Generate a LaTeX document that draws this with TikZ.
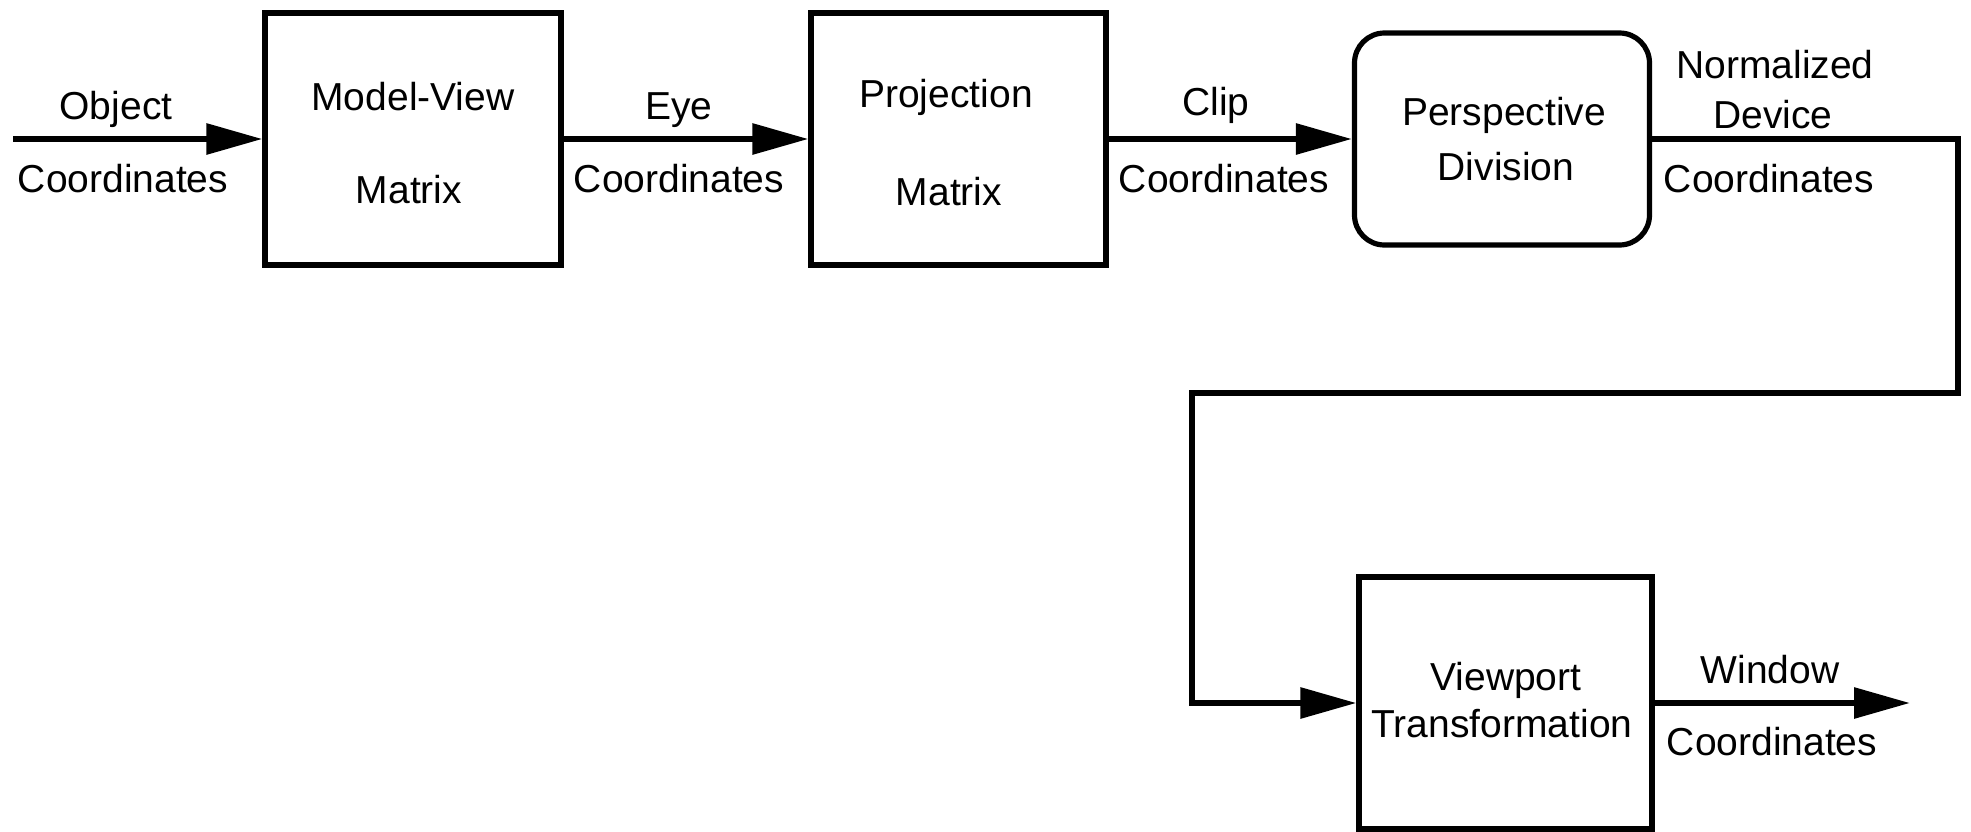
\documentclass[tikz,border=0pt]{standalone}
\usepackage{fontspec}
\setmainfont{Liberation Sans}
\usetikzlibrary{arrows.meta}
\tikzset{
  blk/.style={draw, line width=2.6pt, inner sep=0pt},
  conn/.style={line width=3pt},
  arr/.style={conn, -{Triangle[length=28pt,width=15pt]}},
  lbl/.style={anchor=base, inner sep=0pt, font=\fontsize{19.5}{23}\selectfont}
}
\begin{document}
\begin{tikzpicture}[x=0.5pt,y=-0.5pt]
\useasboundingbox (0,0) rectangle (1971,831);
% boxes
\node[blk, minimum width=148pt, minimum height=126pt] (mv) at (413,139) {};
\node[blk, minimum width=147.5pt, minimum height=126pt] (proj) at (958.5,139) {};
\node[blk, rounded corners=15pt, minimum width=147.5pt, minimum height=106pt] (persp) at (1502,139) {};
\node[blk, minimum width=146.5pt, minimum height=126pt] (vp) at (1505.5,703) {};
% box texts
\node[lbl] (mvA) at (413,110) {Model-View};
\node[lbl] (mvB) at (409,203) {Matrix};
\node[lbl] (prA) at (946,107) {Projection};
\node[lbl] (prB) at (949,205) {Matrix};
\node[lbl] (peA) at (1504,125) {Perspective};
\node[lbl] (peB) at (1506,180) {Division};
\node[lbl] (vpA) at (1506,690) {Viewport};
\node[lbl] (vpB) at (1502,737) {Transformation};
% connector labels
\node[lbl] (objA) at (116,119) {Object};
\node[lbl] (objB) at (123,192) {Coordinates};
\node[lbl] (eyeA) at (679,119) {Eye};
\node[lbl] (eyeB) at (679,192) {Coordinates};
\node[lbl] (clA) at (1216,115) {Clip};
\node[lbl] (clB) at (1224,192) {Coordinates};
\node[lbl] (ndA) at (1775,78) {Normalized};
\node[lbl] (ndB) at (1773,128) {Device};
\node[lbl] (ndC) at (1769,192) {Coordinates};
\node[lbl] (wiA) at (1770,683) {Window};
\node[lbl] (wiB) at (1772,755) {Coordinates};
% coordinates
\coordinate (start) at (13,139);
\coordinate (r1) at (1958,393);
\coordinate (l1) at (1192,393);
\coordinate (wend) at (1910,703);
% connectors
\draw[arr] (start) -- (mv.west);
\draw[arr] (mv.east) -- (proj.west);
\draw[arr] (proj.east) -- (persp.west);
\draw[arr] (persp.east) -| (r1) -- (l1) |- (vp.west);
\draw[arr] (vp.east) -- (wend);
\end{tikzpicture}
\end{document}
